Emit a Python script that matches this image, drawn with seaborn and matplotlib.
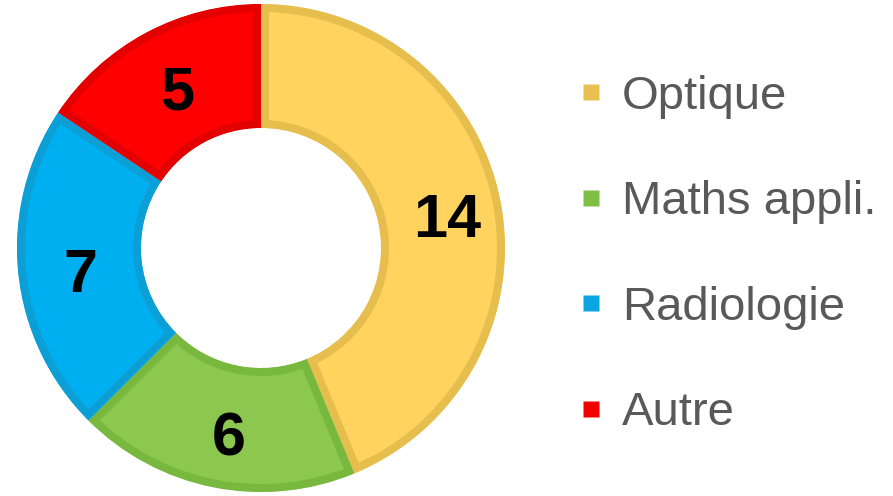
import matplotlib
matplotlib.use("Agg")
import matplotlib.pyplot as plt
import seaborn as sns
import numpy as np
from matplotlib.lines import Line2D

categories = ["Optique", "Maths appli.", "Radiologie", "Autre"]
values = [14, 6, 7, 5]
fill_colors = ["#FFD35E", "#8CC84F", "#00AFEF", "#FF0000"]
edge_colors = ["#E6BE4E", "#78B83F", "#0C9FD6", "#E30000"]
legend_colors = ["#E9C152", "#7FBF45", "#0AA6E2", "#F00000"]

sns.set_theme(style="white")
plt.rcParams["font.family"] = ["Liberation Sans", "DejaVu Sans"]

fig = plt.figure(figsize=(8.93, 4.96), dpi=100)
ax = fig.add_axes([0, 0, 1, 1])

cx, cy, R = 261, 248, 244
wedges, _ = ax.pie(values, colors=fill_colors, startangle=90, counterclock=False,
                   center=(cx, cy), radius=R,
                   wedgeprops=dict(width=124, linewidth=11.5))

ax.set_xlim(0, 893)
ax.set_ylim(0, 496)
ax.set_aspect("equal")
ax.axis("off")

for w, ec in zip(wedges, edge_colors):
    w.set_edgecolor(ec)
    w.set_clip_on(True)
    w.set_clip_path(w.get_path(), transform=w.get_transform())

total = sum(values)
cum = 0
r_mid = 186
for v in values:
    mid = 90 - (cum + v / 2) / total * 360
    cum += v
    x = cx + r_mid * np.cos(np.radians(mid)) + 4
    y = cy + r_mid * np.sin(np.radians(mid)) - 10
    ax.text(x, y, str(v), ha="center", va="center", fontsize=44,
            fontweight="bold", color="black")

handles = [Line2D([], [], linestyle="none", marker="s", markersize=11.5,
                  markerfacecolor=c, markeredgecolor="none") for c in legend_colors]
leg = fig.legend(handles, categories, loc="upper left", bbox_to_anchor=(0.649, 0.849),
                 frameon=False, fontsize=34, labelcolor="#595959",
                 handlelength=0.5, handletextpad=0.4,
                 labelspacing=1.3, borderaxespad=0, borderpad=0)

fig.savefig("out.png", dpi=100)
